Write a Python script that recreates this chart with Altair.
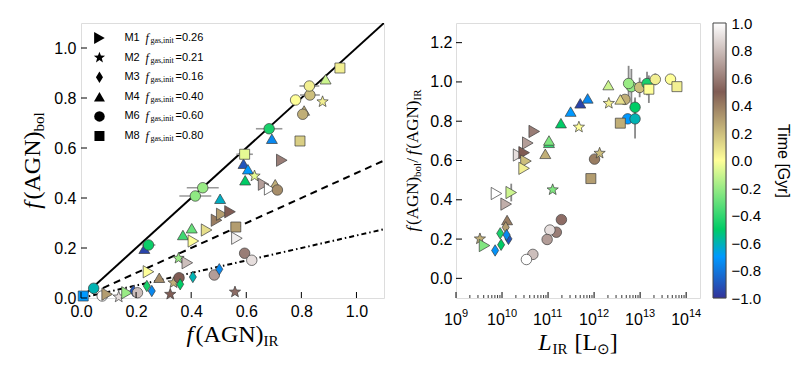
import math
import altair as alt
import pandas as pd

SANS = "Liberation Sans"
SERIF = "Liberation Serif"

# ---------------- data ----------------
models = ["M1", "M2", "M3", "M4", "M6", "M8"]
fgas_init = ["0.26", "0.21", "0.16", "0.40", "0.60", "0.80"]

# left panel: f(AGN)_IR vs f(AGN)_bol
left_model = ["M4", "M6", "M8", "M4", "M6", "M6", "M2", "M6", "M6", "M4", "M8", "M4", "M8", "M1", "M4",
              "M2", "M4", "M1", "M4", "M1", "M6", "M8", "M1", "M6", "M6", "M2", "M6", "M6", "M4", "M1",
              "M1", "M1", "M4", "M4", "M1", "M1", "M2", "M1", "M4", "M6", "M1", "M4", "M2", "M6", "M3",
              "M3", "M6", "M3", "M8", "M6", "M6", "M1", "M2", "M1", "M3", "M6", "M3", "M3", "M2"]
left_fir = [0.81, 0.805, 0.94, 0.888, 0.831, 0.829, 0.877, 0.779, 0.683, 0.693, 0.795, 0.59, 0.594, 0.729, 0.606,
            0.63, 0.596, 0.663, 0.705, 0.685, 0.713, 0.562, 0.566, 0.594, 0.62, 0.559, 0.415, 0.442, 0.505, 0.492,
            0.511, 0.541, 0.37, 0.402, 0.456, 0.408, 0.354, 0.386, 0.23, 0.245, 0.245, 0.284, 0.336, 0.356, 0.36,
            0.406, 0.484, 0.502, 0.008, 0.046, 0.077, 0.095, 0.137, 0.167, 0.19, 0.205, 0.239, 0.257, 0.324]
left_fbol = [0.75, 0.735, 0.92, 0.875, 0.812, 0.848, 0.785, 0.792, 0.677, 0.637, 0.628, 0.537, 0.575, 0.551, 0.515,
             0.488, 0.471, 0.455, 0.455, 0.436, 0.432, 0.284, 0.239, 0.179, 0.151, 0.024, 0.408, 0.441, 0.397, 0.311,
             0.335, 0.345, 0.252, 0.279, 0.272, 0.228, 0.159, 0.141, 0.197, 0.212, 0.105, 0.081, 0.061, 0.081, 0.055,
             0.084, 0.092, 0.115, 0.008, 0.039, 0.008, 0.015, 0.004, 0.021, 0.028, 0.021, 0.048, 0.028, 0.015]
left_time = [0.25, 0.25, 0.05, -0.1, 0.2, 0.05, 0.05, 0.0, -0.45, -0.75, 0.15, -0.9, -0.05, 0.6, -0.7,
             -0.05, -0.5, 0.7, 0.25, 1.0, 0.35, 0.3, 0.95, 0.6, 0.9, 0.55, -0.22, -0.2, -0.62, 0.4,
             0.3, 0.5, -0.38, -0.3, 0.1, 0.0, -0.2, 0.8, -0.95, -0.48, 0.0, 0.35, 0.25, 0.5, -0.5,
             -0.6, 0.7, -0.75, -0.7, -0.6, 1.0, 0.3, 0.9, -0.2, -0.9, 0.8, -0.45, -0.75, 0.5]
left_xerr = [0, 0, 0, 0, 0.036, 0.036, 0, 0, 0.048, 0, 0, 0, 0.03, 0, 0,
             0, 0, 0, 0, 0, 0, 0, 0, 0, 0, 0, 0.058, 0.058, 0, 0,
             0, 0, 0, 0, 0, 0, 0, 0, 0, 0.025, 0, 0, 0, 0, 0,
             0, 0, 0, 0, 0, 0, 0, 0, 0, 0, 0, 0, 0, 0]

# right panel: L_IR vs f(AGN)_bol / f(AGN)_IR
right_model = ["M4", "M6", "M6", "M6", "M6", "M8", "M6", "M6", "M8", "M6", "M4", "M2", "M6", "M6", "M6",
               "M8", "M4", "M4", "M4", "M4", "M2", "M1", "M4", "M4", "M1", "M1", "M1", "M4", "M6", "M2",
               "M1", "M1", "M8", "M2", "M1", "M1", "M1", "M4", "M3", "M3", "M3", "M3", "M3", "M3", "M2",
               "M1", "M6", "M6", "M6", "M6", "M6", "M6"]
right_logL = [12.31, 12.81, 12.75, 12.99, 13.15, 13.19, 13.33, 13.66, 13.80, 12.67, 12.57, 12.32, 12.89, 12.73, 12.89,
              12.57, 11.86, 11.70, 11.49, 11.28, 11.67, 10.70, 11.02, 11.02, 10.56, 10.36, 10.48, 10.94, 12.01, 12.12,
              10.52, 10.48, 11.93, 11.10, 9.88, 10.20, 10.09, 10.11, 10.08, 9.96, 10.14, 10.10, 9.98, 9.85, 9.52,
              9.62, 11.29, 11.18, 11.04, 10.98, 10.67, 10.53]
right_ratio = [0.984, 0.976, 0.992, 0.972, 0.992, 0.963, 1.013, 1.014, 0.976, 0.911, 0.911, 0.891, 0.871, 0.812, 0.812,
               0.79, 0.916, 0.891, 0.849, 0.79, 0.77, 0.748, 0.69, 0.702, 0.689, 0.628, 0.64, 0.634, 0.607, 0.637,
               0.597, 0.56, 0.508, 0.451, 0.432, 0.437, 0.378, 0.297, 0.26, 0.229, 0.201, 0.221, 0.171, 0.142, 0.201,
               0.167, 0.299, 0.235, 0.246, 0.198, 0.122, 0.096]
right_time = [-0.1, -0.22, -0.2, 0.2, -0.45, 0.0, 0.05, 0.0, 0.05, 0.25, 0.1, 0.05, -0.5, -0.7, -0.6,
              0.25, -0.75, -0.95, -0.7, -0.5, 0.0, 0.6, -0.4, -0.25, 0.7, 0.9, 0.5, 0.25, 0.4, 0.2,
              0.2, 0.05, 0.3, -0.25, 1.0, -0.1, 0.75, 0.4, 0.3, -0.45, -0.9, -0.75, -0.5, -0.72, 0.25,
              -0.25, 0.55, 0.6, 0.9, 0.7, 0.8, 1.0]
right_yerr = [0, 0.09, 0.09, 0.05, 0.06, 0.07, 0.03, 0, 0, 0, 0, 0, 0.05, 0, 0.1,
              0, 0, 0, 0, 0, 0, 0, 0, 0, 0, 0, 0, 0, 0, 0,
              0, 0, 0, 0, 0, 0.045, 0, 0, 0, 0, 0, 0, 0, 0, 0,
              0, 0, 0, 0, 0, 0, 0]

# reference lines in the left panel (end points)
line_x = [0.0, 1.1]
line_solid_y = [0.0, 1.1]
line_dashed_y = [0.0, 0.55]
line_dashdot_y = [0.0, 0.275]

# axis ticks
left_ticks = [0.0, 0.2, 0.4, 0.6, 0.8, 1.0]
right_y_ticks = [0.0, 0.2, 0.4, 0.6, 0.8, 1.0, 1.2]
right_x_exp = [9, 10, 11, 12, 13, 14]
time_ticks = [-1.0, -0.8, -0.6, -0.4, -0.2, 0.0, 0.2, 0.4, 0.6, 0.8, 1.0]

# colour map (matplotlib "terrain"), nodes over time -1..1
cmap_time = [-1.0, -0.7, -0.5, 0.0, 0.5, 1.0]
cmap_colors = ["#333399", "#0099ff", "#00cc66", "#ffff99", "#805c54", "#ffffff"]

# ---------------- styling ----------------
W_L, W_R, H = 303, 244, 275


def star_path(ri=0.42):
    pts = []
    for k in range(10):
        r = 1.0 if k % 2 == 0 else ri
        a = math.radians(90 + 36 * k)
        pts.append(f"{r * math.cos(a):.3f},{-r * math.sin(a):.3f}")
    return "M" + "L".join(pts) + "Z"


shapes = ["triangle-right", star_path(), "M0,-1L0.62,0L0,1L-0.62,0Z", "triangle-up", "circle", "square"]
sizes = [150, 100, 169, 150, 140, 130]
shape_scale = alt.Scale(domain=models, range=shapes)
size_scale = alt.Scale(domain=models, range=sizes)
cscale = alt.Scale(domain=cmap_time, range=cmap_colors, interpolate="rgb", clamp=True)

xL = alt.Scale(domain=[0, 1.1], nice=False, zero=False)
yL = alt.Scale(domain=[0, 1.1], nice=False, zero=False)
xR = alt.Scale(type="log", domain=[1e9, 2e14], nice=False)
yR = alt.Scale(domain=[-0.1, 1.3], nice=False, zero=False)
yC = alt.Scale(domain=[-1, 1], nice=False, zero=False)

x_axis_L = alt.Axis(values=left_ticks, format=".1f", ticks=False, domain=False, grid=False,
                    labelFontSize=16, labelFont=SANS, labelColor="black", labelPadding=5,
                    labelFlush=False, title=None)
y_axis_L = alt.Axis(values=left_ticks, format=".1f", ticks=False, domain=False, grid=False,
                    labelFontSize=16, labelFont=SANS, labelColor="black", labelPadding=5, title=None)
y_axis_R = alt.Axis(values=right_y_ticks, format=".1f", ticks=False, domain=False, grid=False,
                    labelFontSize=16, labelFont=SANS, labelColor="black", labelPadding=4, title=None)
y_axis_C = alt.Axis(values=time_ticks, format=".1f", orient="right", ticks=False, domain=False, grid=False,
                    labelFontSize=15, labelFont=SANS, labelColor="black", labelPadding=5, labelFlush=False,
                    title="Time [Gyr]", titleFont=SANS, titleFontSize=16, titleFontWeight="normal",
                    titleColor="black", titleAngle=90, titlePadding=14, titleBaseline="bottom")


def XL(f):
    return alt.X(f, scale=xL, axis=x_axis_L)


def YL(f):
    return alt.Y(f, scale=yL, axis=y_axis_L)


def XR(f):
    return alt.X(f, scale=xR, axis=None)


def YR(f):
    return alt.Y(f, scale=yR, axis=y_axis_R)


one = pd.DataFrame({"a": [0]})

EM = {"(": 0.333, ")": 0.333, "A": 0.722, "G": 0.722, "N": 0.722, "I": 0.333, "R": 0.667,
      "b": 0.5, "o": 0.5, "l": 0.278, "L": 0.611, "[": 0.333, "]": 0.333, "/": 0.278, "⊙": 0.84}
EM_IT = {"f": 0.38, "L": 0.6}


def twidth(txt, fs, style):
    table = EM_IT if style == "italic" else EM
    return sum(table.get(c, 0.5) for c in txt) * fs


def composite(pieces, ax, ay, angle=0):
    widths = [p[4] if len(p) > 4 else twidth(p[0], p[1], p[2]) for p in pieces]
    off = -sum(widths) / 2.0
    out = []
    for p, w in zip(pieces, widths):
        txt, fs, style, dy = p[0], p[1], p[2], p[3]
        if txt:
            out.append(alt.Chart(one).mark_text(text=txt, font=SERIF, fontSize=fs, fontStyle=style,
                                                align="left", baseline="alphabetic", angle=angle,
                                                dx=off, dy=dy, color="black")
                       .encode(x=alt.value(ax), y=alt.value(ay)))
        off += w
    return out


def point_layer(df, x, y):
    return alt.Chart(df).mark_point(filled=True, stroke="#3c3c3c", strokeWidth=0.7, opacity=1).encode(
        x=x, y=y,
        color=alt.Color("time:Q", scale=cscale, legend=None),
        shape=alt.Shape("model:N", scale=shape_scale, legend=None),
        size=alt.Size("model:N", scale=size_scale, legend=None),
    )


# ---------------- left panel ----------------
ldf = pd.DataFrame({"model": left_model, "fir": left_fir, "fbol": left_fbol,
                    "time": left_time, "xerr": left_xerr})
ldf["lo"] = ldf["fir"] - ldf["xerr"]
ldf["hi"] = ldf["fir"] + ldf["xerr"]
lerr = ldf[ldf["xerr"] > 0]


def ref_line(yvals, dash):
    d = pd.DataFrame({"lx": line_x, "ly": yvals})
    if dash:
        m = alt.Chart(d).mark_line(color="black", strokeWidth=2, clip=True, strokeDash=dash)
    else:
        m = alt.Chart(d).mark_line(color="black", strokeWidth=2, clip=True)
    return m.encode(x=XL("lx:Q"), y=YL("ly:Q"))


lines = [ref_line(line_solid_y, None), ref_line(line_dashed_y, [7, 5]),
         ref_line(line_dashdot_y, [5, 3, 1.5, 3])]

lerr_layer = alt.Chart(lerr).mark_rule(color="#999999", strokeWidth=1.6).encode(
    x=XL("lo:Q"), x2="hi:Q", y=YL("fbol:Q"))

lpts = point_layer(ldf, XL("fir:Q"), YL("fbol:Q"))

ltick_df = pd.DataFrame({"v": left_ticks})
ltx = alt.Chart(ltick_df).mark_rule(color="black", strokeWidth=1).encode(
    x=XL("v:Q"), y=alt.value(H), y2=alt.value(H - 6))
lty = alt.Chart(ltick_df).mark_rule(color="black", strokeWidth=1).encode(
    y=YL("v:Q"), x=alt.value(0), x2=alt.value(6))

# legend of models (inside the left panel)
leg_df = pd.DataFrame({"model": models, "fg": ["=" + v for v in fgas_init],
                       "ly": [1.04 - 0.0784 * i for i in range(len(models))], "lx": [0.067] * len(models)})
leg_enc = dict(x=XL("lx:Q"), y=YL("ly:Q"))
leg_marks = alt.Chart(leg_df).mark_point(filled=True, color="black", opacity=1).encode(
    shape=alt.Shape("model:N", scale=shape_scale, legend=None),
    size=alt.Size("model:N", scale=size_scale, legend=None), **leg_enc)
leg_name = alt.Chart(leg_df).mark_text(align="left", baseline="middle", dx=25, font=SANS, fontSize=11,
                                       color="black").encode(text="model:N", **leg_enc)
leg_f = alt.Chart(leg_df).mark_text(text="f", align="left", baseline="middle", dx=46, font=SERIF,
                                    fontSize=12, fontStyle="italic", color="black").encode(**leg_enc)
leg_sub = alt.Chart(leg_df).mark_text(text="gas,init", align="left", baseline="middle", dx=51, dy=3,
                                      font=SERIF, fontSize=8, color="black").encode(**leg_enc)
leg_val = alt.Chart(leg_df).mark_text(align="left", baseline="middle", dx=76, font=SANS, fontSize=11,
                                      color="black").encode(text="fg:N", **leg_enc)

ltitle_x = composite([("f", 24, "italic", 0), ("(AGN)", 24, "normal", 0), ("IR", 15, "normal", 4)],
                     W_L / 2, 319)
ltitle_y = composite([("f", 24, "italic", 0), ("(AGN)", 24, "normal", 0), ("bol", 15, "normal", 4)],
                     -41, H / 2, angle=270)

left = alt.layer(*lines, lerr_layer, lpts, ltx, lty, leg_marks, leg_name, leg_f, leg_sub, leg_val,
                 *ltitle_x, *ltitle_y).properties(width=W_L, height=H)

# ---------------- right panel ----------------
rdf = pd.DataFrame({"model": right_model, "L": [10.0 ** v for v in right_logL], "ratio": right_ratio,
                    "time": right_time, "yerr": right_yerr})
rdf["lo"] = rdf["ratio"] - rdf["yerr"]
rdf["hi"] = rdf["ratio"] + rdf["yerr"]
rerr = rdf[rdf["yerr"] > 0]

rerr_layer = alt.Chart(rerr).mark_rule(color="#888888", strokeWidth=1.8).encode(
    x=XR("L:Q"), y=YR("lo:Q"), y2="hi:Q")
rpts = point_layer(rdf, XR("L:Q"), YR("ratio:Q"))

major_df = pd.DataFrame({"v": [10.0 ** e for e in right_x_exp], "e": [str(e) for e in right_x_exp]})
minor_df = pd.DataFrame({"v": [m * 10.0 ** e for e in right_x_exp[:-1] for m in range(2, 10)]})
rtx_major = alt.Chart(major_df).mark_rule(color="black", strokeWidth=1).encode(
    x=XR("v:Q"), y=alt.value(H), y2=alt.value(H - 6))
rtx_minor = alt.Chart(minor_df).mark_rule(color="black", strokeWidth=0.8).encode(
    x=XR("v:Q"), y=alt.value(H), y2=alt.value(H - 3))
rty = alt.Chart(pd.DataFrame({"v": right_y_ticks})).mark_rule(color="black", strokeWidth=1).encode(
    y=YR("v:Q"), x=alt.value(0), x2=alt.value(6))

lab1 = major_df[major_df["e"].str.len() == 1]
lab2 = major_df[major_df["e"].str.len() == 2]
rlabels = []
for sub, dxv in ((lab1, 5.9), (lab2, 2.8)):
    rlabels.append(alt.Chart(sub).mark_text(text="10", align="right", baseline="alphabetic", dx=dxv,
                                            font=SANS, fontSize=16, color="black")
                   .encode(x=XR("v:Q"), y=alt.value(H + 27)))
    rlabels.append(alt.Chart(sub).mark_text(align="left", baseline="alphabetic", dx=dxv, dy=-8,
                                            font=SANS, fontSize=11, color="black")
                   .encode(x=XR("v:Q"), y=alt.value(H + 27), text="e:N"))

rtitle_x = composite([("L", 24, "italic", 0), ("IR", 15, "normal", 4), ("", 24, "normal", 0, 7),
                      ("[L", 24, "normal", 0), ("⊙", 15, "normal", 4), ("]", 24, "normal", 0)],
                     W_R / 2, 327)
rtitle_y = composite([("f", 17, "italic", 0), ("(AGN)", 17, "normal", 0), ("bol", 11, "normal", 3),
                      ("/", 17, "normal", 0), ("", 17, "normal", 0, 3),
                      ("f", 17, "italic", 0), ("(AGN)", 17, "normal", 0), ("IR", 11, "normal", 3)],
                     -38, H / 2, angle=270)

right = alt.layer(rerr_layer, rpts, rtx_major, rtx_minor, rty, *rlabels, *rtitle_x, *rtitle_y).properties(
    width=W_R, height=H)

# ---------------- colour bar ----------------
grad = alt.Gradient(gradient="linear", x1=0, x2=0, y1=1, y2=0,
                    stops=[alt.GradientStop(offset=(t + 1) / 2, color=c) for t, c in zip(cmap_time, cmap_colors)])
cbar_rect = alt.Chart(one).mark_rect(color=grad, stroke="#444444", strokeWidth=1).encode(
    x=alt.value(0), x2=alt.value(13), y=alt.value(0), y2=alt.value(H))
cbar_axis = alt.Chart(pd.DataFrame({"v": time_ticks})).mark_tick(opacity=0).encode(
    y=alt.Y("v:Q", scale=yC, axis=y_axis_C))
cbar = alt.layer(cbar_rect, cbar_axis).properties(width=13, height=H)

chart = alt.hconcat(left, alt.hconcat(right, cbar, spacing=10), spacing=18).properties(
    padding={"left": 12, "top": 7, "right": 5, "bottom": 5}
).configure_view(stroke="black", strokeWidth=1.2).configure(background="white")

chart.save("out.html", embed_options={"renderer": "svg", "actions": False})
